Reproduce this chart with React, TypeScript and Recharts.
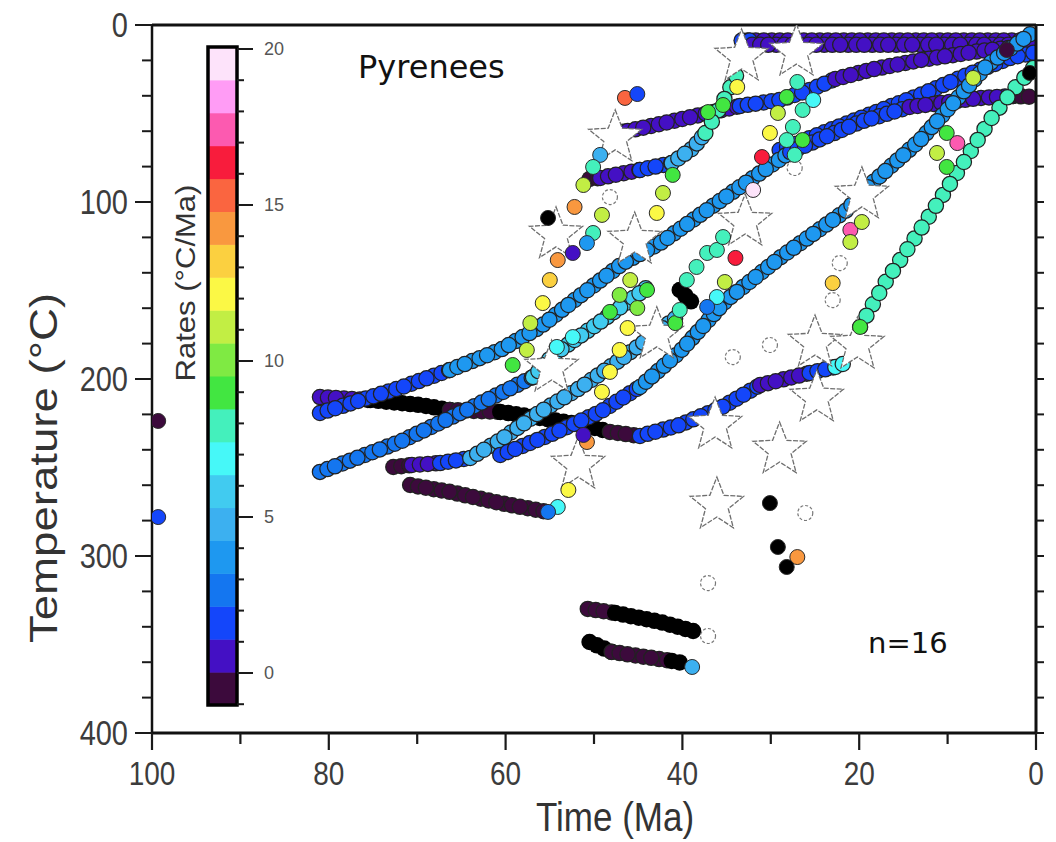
import React from 'react';
import { ComposedChart, Line, Scatter, XAxis, YAxis, Customized } from 'recharts';

// ---------- data ----------
const rateColors = [
  '#3c0a3c', '#4410c4', '#1446fa', '#1476f0', '#1e98f0', '#3cb0f0', '#41cbf0',
  '#46f8f8', '#44f0bc', '#42e641', '#7fea43', '#c2ee44', '#fbf845', '#fbd040',
  '#f9983f', '#fa6540', '#f81c3c', '#fc5ab0', '#ff9cf5', '#fde3fa',
];
const colorbarLabels = [0, 5, 10, 15, 20];
const xTicks = [0, 10, 20, 30, 40, 50, 60, 70, 80, 90, 100];
const yTicks = [0, 20, 40, 60, 80, 100, 120, 140, 160, 180, 200, 220, 240, 260, 280, 300, 320, 340, 360, 380, 400];

// thermal-history tracks: colour index (-1 = black), points [time Ma, temperature °C]
const tracks: { c: number; gap?: number; pts: number[][] }[] = [
  { c: 1, pts: [[32.6, 8.8], [0, 8.8]] },
  { c: 2, pts: [[33.3, 8.8], [32.3, 8.8]] },
  { c: 1, pts: [[32.1, 11.2], [0, 11.2]] },
  { c: 2, pts: [[47.6, 61.0], [46.2, 59.9]] },
  { c: 1, pts: [[46.2, 59.9], [42.5, 55.9], [38.0, 50.8], [33.5, 45.8]] },
  { c: 2, pts: [[33.5, 45.8], [29.0, 42.4], [25.6, 36.7], [22.7, 30.5]] },
  { c: 1, pts: [[22.7, 30.5], [18.8, 25.4], [13.1, 19.8], [6.3, 14.7], [0, 11.3]] },
  { c: 2, pts: [[29.0, 70.6], [21.0, 54.8], [13.1, 39.5], [7.8, 28.2], [2.9, 18.6], [0, 15.3]] },
  { c: 1, pts: [[81.0, 210.2], [75.3, 211.9]] },
  { c: -1, pts: [[75.3, 211.9], [69.7, 214.7], [66.3, 217.5]] },
  { c: 0, pts: [[66.3, 217.5], [60.6, 218.6]] },
  { c: -1, pts: [[60.6, 218.6], [56.1, 222.0], [51.2, 226.0], [48.2, 229.9]] },
  { c: 0, pts: [[48.2, 229.9], [44.8, 232.2]] },
  { c: 2, pts: [[44.8, 232.2], [40.3, 226.0], [35.7, 216.4], [31.2, 203.4]] },
  { c: 1, pts: [[31.2, 203.4], [25.6, 196.6]] },
  { c: 2, pts: [[25.6, 196.6], [22.7, 193.2]] },
  { c: 7, pts: [[22.7, 193.2], [21.6, 191.0]] },
  { c: 2, pts: [[81.0, 219.2], [72.0, 205.1], [66.3, 194.9]] },
  { c: 4, pts: [[66.3, 194.9], [60.6, 183.6], [56.1, 170.6], [51.6, 153.1], [46.7, 134.5], [42.5, 123.2], [38.0, 107.3], [33.5, 91.5], [27.8, 71.8]] },
  { c: 2, pts: [[27.8, 71.8], [19.9, 54.8], [14.3, 46.3]] },
  { c: 1, pts: [[14.3, 46.3], [6.3, 41.2], [2.6, 40.1]] },
  { c: 0, pts: [[2.6, 40.1], [0, 40.7]] },
  { c: 3, pts: [[81.0, 252.5], [72.0, 235.6], [64.4, 217.5], [56.9, 198.9]] },
  { c: 6, pts: [[56.9, 198.9], [54.6, 186.4], [49.3, 167.8], [44.8, 151.4], [43.7, 146.9]] },
  { c: 0, pts: [[72.7, 249.7], [70.6, 248.6]] },
  { c: 1, pts: [[70.6, 248.6], [67.4, 247.5]] },
  { c: 2, pts: [[67.4, 247.5], [64.0, 244.6]] },
  { c: 5, pts: [[64.0, 244.6], [60.6, 234.5], [56.1, 218.6], [51.6, 205.1], [47.1, 189.3], [42.5, 172.3], [40.3, 163.8]] },
  { c: 2, pts: [[60.6, 242.9], [55.0, 231.6], [49.3, 218.6], [44.8, 204.5]] },
  { c: 4, pts: [[44.8, 204.5], [40.3, 184.7], [35.0, 155.4], [29.0, 131.6], [21.4, 104.5], [18.8, 90.4], [13.1, 65.0], [5.5, 22.6], [0, 2.8]] },
  { c: 0, pts: [[50.5, 87.0], [49.3, 86.4]] },
  { c: 1, pts: [[49.3, 86.4], [44.8, 81.9]] },
  { c: 2, pts: [[44.8, 81.9], [41.2, 78.0]] },
  { c: 5, pts: [[41.2, 78.0], [38.8, 69.5], [37.4, 61.0]] },
  { c: 8, gap: 13, pts: [[37.4, 61.0], [36.1, 49.7], [35.0, 39.5], [34.0, 29.4], [33.4, 22.6]] },
  { c: 0, pts: [[70.8, 259.9], [66.3, 263.8], [60.6, 270.1], [55.3, 275.1]] },
  { c: 0, pts: [[50.7, 329.9], [47.6, 332.2]] },
  { c: -1, pts: [[47.6, 332.2], [42.5, 337.3], [38.4, 342.9]] },
  { c: -1, pts: [[50.5, 348.6], [48.0, 354.2]] },
  { c: 0, pts: [[48.0, 354.2], [41.2, 359.3]] },
  { c: -1, pts: [[41.2, 359.3], [39.9, 360.5]] },
  { c: -1, pts: [[40.3, 149.7], [38.4, 159.3]] },
  { c: 8, gap: 13, pts: [[19.9, 170.6], [17.1, 145.8], [14.0, 122.6], [10.9, 98.9], [7.8, 74.6], [5.2, 53.7], [2.6, 36.7], [0, 22.6]] },
];

// single rate circles: [time, temperature, colour index]
const rateDots = [
  [46.5, 41.2, 15], [45.1, 39.0, 2],
  [49.3, 73.4, 5], [50.1, 80.2, 8], [51.2, 90.4, 11], [52.2, 102.8, 14], [49.1, 107.3, 11], [50.1, 117.5, 8],
  [50.8, 123.2, 4], [52.4, 128.8, 1], [54.1, 132.8, 14], [55.2, 109.0, -1],
  [55.0, 144.1, 13], [55.8, 157.1, 12], [57.2, 168.4, 11], [57.6, 183.6, 11], [59.2, 192.1, 9],
  [41.1, 84.7, 9], [42.2, 94.9, 11], [42.9, 106.2, 12],
  [33.8, 35.0, 12], [28.2, 40.7, 9], [29.2, 49.7, 11], [30.1, 61.0, 12], [31.0, 74.6, 16], [32.0, 93.2, 19],
  [35.4, 45.2, 9], [37.1, 49.2, 9],
  [27.0, 32.2, 8], [26.4, 48.0, 8], [27.5, 57.6, 8], [26.4, 65.0, 9], [25.2, 42.4, 7], [28.2, 65.0, 8], [27.3, 73.4, 8],
  [7.1, 29.9, 11], [10.1, 61.0, 9], [8.9, 66.7, 17], [11.2, 72.3, 11], [10.1, 80.2, 9],
  [19.9, 170.6, 9],
  [21.0, 115.8, 17], [21.0, 122.6, 11], [19.7, 111.3, 11], [23.0, 145.8, 13],
  [34.0, 131.6, 16], [35.2, 145.2, 11], [36.1, 153.7, 7], [37.2, 159.3, 3],
  [39.5, 144.1, 8], [38.4, 136.7, 8], [37.2, 128.8, 8], [36.1, 127.1, 8], [35.4, 119.8, 8], [40.8, 168.4, 9], [40.3, 161.0, 8],
  [45.9, 144.1, 11], [47.1, 152.5, 10], [48.2, 162.1, 9], [45.1, 159.9, 10], [44.0, 149.7, 9],
  [46.2, 171.2, 12], [47.1, 183.6, 12], [48.2, 196.0, 12], [49.1, 207.3, 12],
  [54.2, 181.9, 7], [52.4, 176.3, 7],
  [52.9, 262.7, 12], [54.1, 272.3, 7], [55.2, 275.1, 3],
  [30.1, 270.1, -1], [29.2, 294.9, -1], [27.0, 300.6, 14], [28.2, 306.2, -1],
  [50.8, 235.6, 14], [51.2, 231.6, 1],
  [38.9, 362.7, 5],
  [99.3, 223.7, 0], [99.3, 278.0, 2],
  [0.7, 27.1, -1], [3.3, 14.1, 0],
];

const stars = [
  [33.3, 18.1], [27.1, 15.3], [47.6, 63.8], [54.3, 118.6], [45.4, 121.5], [32.9, 111.3], [19.7, 96.0],
  [42.9, 175.1], [54.8, 193.8], [51.8, 248.6], [36.3, 226.0], [29.0, 240.1], [24.8, 210.7], [25.0, 179.7],
  [20.2, 180.8], [36.1, 271.2],
];

const openCircles = [
  [48.2, 97.2], [27.3, 80.8], [34.3, 187.6], [30.1, 180.8], [22.2, 134.5], [23.0, 155.4], [26.1, 275.7],
  [37.1, 315.3], [37.1, 345.2],
];

// ---------- helpers ----------
const axisFont = "'Liberation Sans', Arial, Helvetica, sans-serif";
const colorOf = (c: number) => (c < 0 ? '#000000' : rateColors[c]);
const toXY = (pts: number[][]) => pts.map(([x, y]) => ({ x, y }));

const BottomTick = (p: any) => {
  const { x, y, payload } = p;
  const v = payload.value;
  const major = v % 20 === 0;
  return (
    <g>
      <line x1={x} y1={y} x2={x} y2={y + (major ? 17 : 11)} stroke="#1a1a1a" strokeWidth={2.2} />
      {major ? (
        <text transform={`translate(${x},${y + 52}) scale(1,1.2)`} textAnchor="middle" fontSize={28} fontFamily={axisFont} fill="#3c3c3c">{v}</text>
      ) : null}
    </g>
  );
};
const TopTick = (p: any) => {
  const { x, y } = p;
  return <line x1={x} y1={y} x2={x} y2={y - 14} stroke="#1a1a1a" strokeWidth={2.2} />;
};
const LeftTick = (p: any) => {
  const { x, y, payload } = p;
  const v = payload.value;
  const major = v % 100 === 0;
  return (
    <g>
      <line x1={x} y1={y} x2={x - (major ? 17 : 10)} y2={y} stroke="#1a1a1a" strokeWidth={2} />
      {major ? (
        <text transform={`translate(${x - 24},${y + 12}) scale(1,1.2)`} textAnchor="end" fontSize={29} fontFamily={axisFont} fill="#3c3c3c">{v}</text>
      ) : null}
    </g>
  );
};
const RightTick = (p: any) => {
  const { x, y } = p;
  return <line x1={x} y1={y} x2={x + 8} y2={y} stroke="#1a1a1a" strokeWidth={2} />;
};

const starPath = (cx: number, cy: number, R: number, r: number) => {
  let d = '';
  for (let i = 0; i < 10; i++) {
    const a = -Math.PI / 2 + (i * Math.PI) / 5;
    const rad = i % 2 === 0 ? R : r;
    d += (i ? 'L' : 'M') + (cx + rad * Math.cos(a)).toFixed(1) + ',' + (cy + rad * Math.sin(a)).toFixed(1);
  }
  return d + 'Z';
};

const StarShape = (p: any) => (
  <path d={starPath(p.cx, p.cy, 28, 12)} fill="#ffffff" stroke="#6e6e6e" strokeWidth={1.3} strokeDasharray="5 1.5" />
);
const OpenCircle = (p: any) => (
  <circle cx={p.cx} cy={p.cy} r={7.5} fill="#ffffff" stroke="#777" strokeWidth={1.2} strokeDasharray="3 2" />
);
const RateDot = (p: any) => (
  <circle cx={p.cx} cy={p.cy} r={7.5} fill={colorOf(p.payload.c)} stroke="#2a2a2a" strokeWidth={1} />
);

// colour bar + free texts (legend-like decorations)
const Decorations = () => {
  const top = 47;
  const h = 658;
  const n = rateColors.length;
  const bh = h / n;
  const yOf = (v: number) => 673 - 31.2 * v;
  const tickVals: number[] = [];
  for (let v = -1; v <= 20; v++) tickVals.push(v);
  return (
    <g>
      {rateColors.map((col, i) => (
        <rect key={i} x={208} y={top + h - (i + 1) * bh} width={29} height={bh + 0.5} fill={col} />
      ))}
      <rect x={208} y={top} width={29} height={h} fill="none" stroke="#000" strokeWidth={3.5} />
      {tickVals.map((v) => (
        <line key={v} x1={237} y1={yOf(v)} x2={v % 5 === 0 ? 253 : 244} y2={yOf(v)} stroke="#1a1a1a" strokeWidth={2} />
      ))}
      {colorbarLabels.map((v) => (
        <text key={v} x={264} y={yOf(v) + 6} fontSize={18} fontFamily={axisFont} fill="#555">{v}</text>
      ))}
      <text transform="translate(195,283) rotate(-90) scale(1.15,1)" textAnchor="middle" fontSize={27} fontFamily={axisFont} fill="#333">Rates (°C/Ma)</text>
      <text transform="translate(57,468) rotate(-90) scale(1.2,1)" textAnchor="middle" fontSize={38} fontFamily={axisFont} fill="#333">Temperature (°C)</text>
      <text transform="translate(615,831) scale(1,1.15)" textAnchor="middle" fontSize={35} fontFamily={axisFont} fill="#333">Time (Ma)</text>
      <text x={358} y={78} fontSize={32} fontFamily="'DejaVu Sans', Verdana, sans-serif" fill="#111">Pyrenees</text>
      <text x={868} y={653} fontSize={29} fontFamily="'DejaVu Sans', Verdana, sans-serif" fill="#111">n=16</text>
    </g>
  );
};

// each track is drawn as a chain of overlapping outlined circles (round zero-length dashes),
// split into phases so that later circles overlap earlier ones
const trackLines = () => {
  const out: React.ReactNode[] = [];
  tracks.forEach((t, i) => {
    const data = toXY(t.pts);
    const gap = t.gap || 8;
    const nPh = t.gap ? 2 : 3;
    const period = gap * nPh;
    const offsets = nPh === 3 ? [0, period - gap, period - 2 * gap] : [0, period - gap];
    offsets.forEach((off, k) => {
      out.push(
        <Line
          key={`o${i}_${k}`} data={data} dataKey="y" type="linear" stroke={t.c < 0 ? '#000' : '#222'}
          strokeWidth={16.5} strokeLinecap="round" strokeLinejoin="round" strokeDasharray={`0 ${period}`}
          strokeDashoffset={off} dot={false} activeDot={false} legendType="none" isAnimationActive={false}
        />,
      );
      out.push(
        <Line
          key={`f${i}_${k}`} data={data} dataKey="y" type="linear" stroke={colorOf(t.c)}
          strokeWidth={14} strokeLinecap="round" strokeLinejoin="round" strokeDasharray={`0 ${period}`}
          strokeDashoffset={off} dot={false} activeDot={false} legendType="none" isAnimationActive={false}
        />,
      );
    });
  });
  return out;
};

export default function App() {
  const dotData = rateDots.map(([x, y, c]) => ({ x, y, c }));
  const starData = toXY(stars);
  const openData = toXY(openCircles);
  return (
    <div style={{ position: 'absolute', left: 0, top: 0, width: 1056, height: 842, background: '#ffffff' }}>
      <ComposedChart width={1056} height={842} margin={{ top: 13, right: 8, bottom: 49, left: 52 }}>
        <XAxis
          type="number" dataKey="x" domain={[0, 100]} reversed allowDataOverflow ticks={xTicks} interval={0}
          height={60} tickLine={false} tickSize={0} tickMargin={0} tick={(p: any) => <BottomTick {...p} />}
          axisLine={{ stroke: '#111', strokeWidth: 3 }}
        />
        <XAxis
          xAxisId="top" orientation="top" type="number" domain={[0, 100]} reversed allowDataOverflow ticks={xTicks}
          interval={0} height={12} tickLine={false} tickSize={0} tickMargin={0} tick={(p: any) => <TopTick {...p} />}
          axisLine={{ stroke: '#111', strokeWidth: 3 }}
        />
        <YAxis
          type="number" dataKey="y" domain={[0, 400]} reversed allowDataOverflow ticks={yTicks} interval={0}
          width={100} tickLine={false} tickSize={0} tickMargin={0} tick={(p: any) => <LeftTick {...p} />}
          axisLine={{ stroke: '#111', strokeWidth: 2.5 }}
        />
        <YAxis
          yAxisId="right" orientation="right" type="number" domain={[0, 400]} reversed allowDataOverflow ticks={yTicks}
          interval={0} width={12} tickLine={false} tickSize={0} tickMargin={0} tick={(p: any) => <RightTick {...p} />}
          axisLine={{ stroke: '#111', strokeWidth: 3 }}
        />
        <Customized component={Decorations} />
        {trackLines()}
        <Scatter data={starData} shape={(p: any) => <StarShape {...p} />} isAnimationActive={false} legendType="none" />
        <Scatter data={openData} shape={(p: any) => <OpenCircle {...p} />} isAnimationActive={false} legendType="none" />
        <Scatter data={dotData} shape={(p: any) => <RateDot {...p} />} isAnimationActive={false} legendType="none" />
      </ComposedChart>
    </div>
  );
}
